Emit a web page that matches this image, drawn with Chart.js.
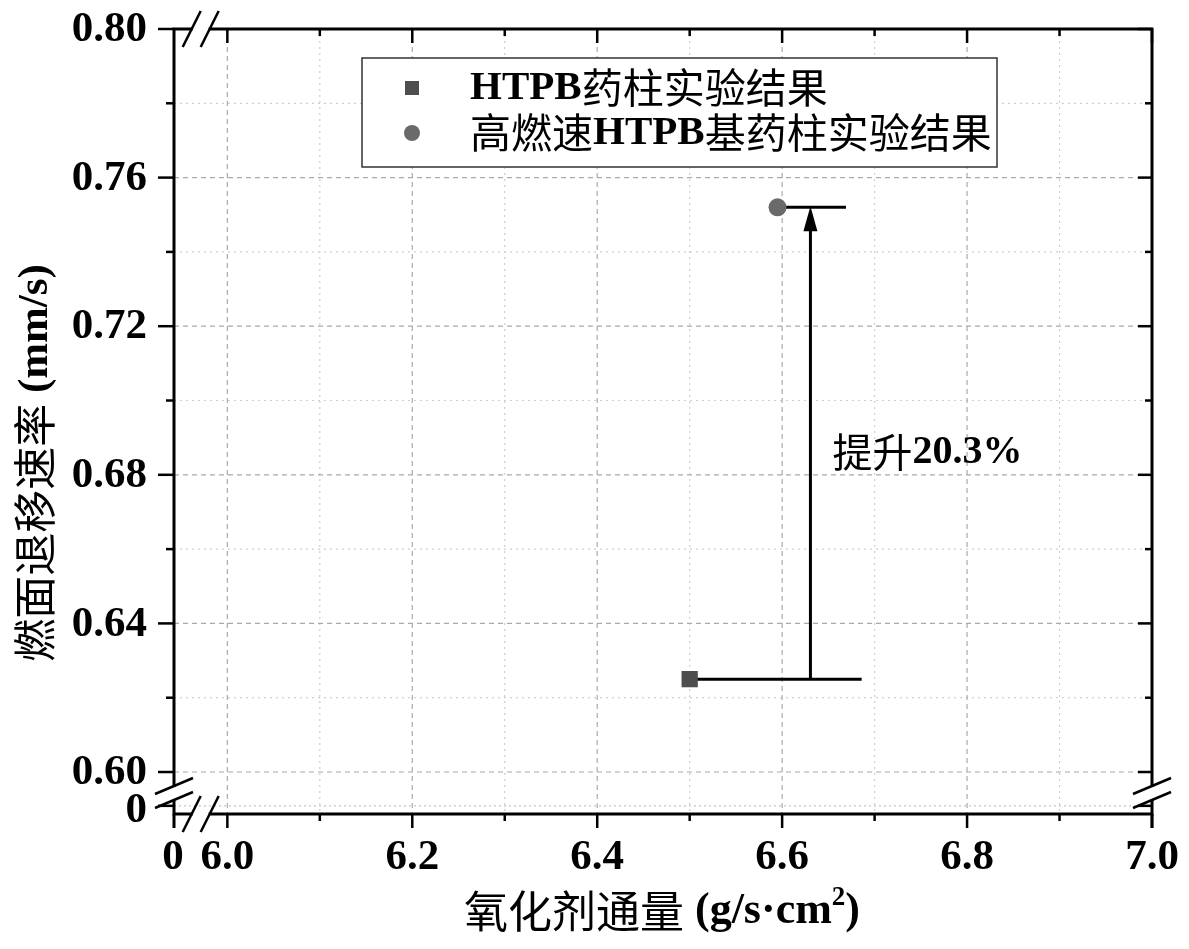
<!DOCTYPE html>
<html>
<head>
<meta charset="utf-8">
<script src="https://cdn.jsdelivr.net/npm/chart.js@4"></script>
<style>
  html, body { margin: 0; padding: 0; background: #fff; }
  #wrap { width: 1189px; height: 949px; position: relative; }
</style>
</head>
<body>
<div id="wrap"><canvas id="chart"></canvas></div>
<script>
// data
const seriesNames = ['HTPB药柱实验结果', '高燃速HTPB基药柱实验结果'];
const fluxValues = [6.5, 6.595];          // g/s·cm2
const rateValues = [0.625, 0.752];        // mm/s

// annotation: horizontal guides, arrow and label
const guideEndX = [6.686, 6.669];
const arrowX = 6.6306;
const annotText = '提升20.3%';
const annotPos = [6.6544, 0.6859];

// axes (broken axes: the "0" sits at the start of each axis)
const xMin = 5.9423, xMax = 7.0;
const yMin = 0.5887, yMax = 0.80;
const xZero = 5.9423, yZero = 0.5909;
const xMajorTicks = [6.0, 6.2, 6.4, 6.6, 6.8, 7.0];
const xTickLabels = ['6.0', '6.2', '6.4', '6.6', '6.8', '7.0'];
const xMinorTicks = [6.1, 6.3, 6.5, 6.7, 6.9];
const yMajorTicks = [0.60, 0.64, 0.68, 0.72, 0.76, 0.80];
const yTickLabels = ['0.60', '0.64', '0.68', '0.72', '0.76', '0.80'];
const yMinorTicks = [0.62, 0.66, 0.70, 0.74, 0.78];
const xTitle = '氧化剂通量 (g/s·cm²)';
const yTitle = '燃面退移速率 (mm/s)';

const LATIN = '"Liberation Serif", "DejaVu Serif", serif';
const CJK = '"Noto Sans CJK SC", sans-serif';

// draw text where Chinese is regular sans and latin is bold serif
function mixedRuns(text) {
  const runs = [];
  for (const ch of text) {
    const type = /[\u3000-\u9fff\uff00-\uffef]/.test(ch) ? 'cjk' : (ch === '²' ? 'sup' : 'lat');
    const last = runs[runs.length - 1];
    if (last && last.type === type) last.t += ch;
    else runs.push({ type, t: type === 'sup' ? '2' : ch });
  }
  return runs;
}
function runFont(r, size) {
  if (r.type === 'cjk') return `${size}px ${CJK}`;
  if (r.type === 'sup') return `bold ${Math.round(size * 0.62)}px ${LATIN}`;
  return `bold ${size}px ${LATIN}`;
}
function drawMixed(ctx, text, x, y, size, align) {
  const runs = mixedRuns(text);
  let w = 0;
  runs.forEach(r => { ctx.font = runFont(r, size); r.w = ctx.measureText(r.t).width; w += r.w; });
  let cx = align === 'center' ? x - w / 2 : x;
  ctx.textBaseline = 'middle';
  ctx.textAlign = 'left';
  runs.forEach(r => {
    ctx.font = runFont(r, size);
    const dy = r.type === 'sup' ? -size * 0.32 : (r.type === 'cjk' ? -1 : 0);
    ctx.fillText(r.t, cx, y + dy);
    cx += r.w;
  });
}

const framePlugin = {
  id: 'frame',
  beforeDatasetsDraw(chart) {
    const ctx = chart.ctx, xs = chart.scales.x, ys = chart.scales.y;
    const { left, right, top, bottom } = chart.chartArea;
    ctx.save();
    ctx.lineWidth = 1.2;
    const vline = (v, color, dash) => {
      const px = xs.getPixelForValue(v);
      ctx.strokeStyle = color; ctx.setLineDash(dash);
      ctx.beginPath(); ctx.moveTo(px, top); ctx.lineTo(px, bottom); ctx.stroke();
    };
    const hline = (v, color, dash) => {
      const py = ys.getPixelForValue(v);
      ctx.strokeStyle = color; ctx.setLineDash(dash);
      ctx.beginPath(); ctx.moveTo(left, py); ctx.lineTo(right, py); ctx.stroke();
    };
    xMinorTicks.forEach(v => vline(v, '#cfcfcf', [2, 4]));
    yMinorTicks.forEach(v => hline(v, '#cfcfcf', [2, 4]));
    xMajorTicks.forEach(v => vline(v, '#aaaaaa', [5, 4]));
    yMajorTicks.forEach(v => hline(v, '#aaaaaa', [5, 4]));
    hline(yZero, '#c4c4c4', [2, 3]);
    ctx.restore();
  },
  afterDatasetsDraw(chart) {
    const ctx = chart.ctx, xs = chart.scales.x, ys = chart.scales.y;
    const { left, right, top, bottom } = chart.chartArea;
    ctx.save();
    ctx.setLineDash([]);

    // arrow head on the vertical guide
    const tipY = ys.getPixelForValue(rateValues[1]) - 1;
    const ax = xs.getPixelForValue(arrowX);
    ctx.fillStyle = '#000';
    ctx.beginPath();
    ctx.moveTo(ax, tipY);
    ctx.lineTo(ax - 7, tipY + 25);
    ctx.lineTo(ax + 7, tipY + 25);
    ctx.closePath();
    ctx.fill();

    // annotation label
    ctx.fillStyle = '#000';
    drawMixed(ctx, annotText, xs.getPixelForValue(annotPos[0]), ys.getPixelForValue(annotPos[1]), 40, 'left');

    // legend box
    const lx = 362, ly = 58, lw = 635, lh = 109;
    ctx.fillStyle = '#fff';
    ctx.fillRect(lx, ly, lw, lh);
    ctx.strokeStyle = '#333'; ctx.lineWidth = 1.5;
    ctx.strokeRect(lx, ly, lw, lh);
    chart.data.datasets.slice(0, 2).forEach((ds, i) => {
      const cy = ly + 30 + i * 45;
      ctx.fillStyle = ds.backgroundColor;
      if (ds.pointStyle === 'rect') ctx.fillRect(lx + 43, cy - 7, 14, 14);
      else { ctx.beginPath(); ctx.arc(lx + 50, cy, 8, 0, Math.PI * 2); ctx.fill(); }
      ctx.fillStyle = '#000';
      drawMixed(ctx, ds.label, lx + 108, cy, 41, 'left');
    });

    // frame
    ctx.strokeStyle = '#000'; ctx.lineWidth = 3; ctx.lineCap = 'butt';
    ctx.strokeRect(left, top, right - left, bottom - top);
    const seg = (x1, y1, x2, y2) => { ctx.beginPath(); ctx.moveTo(x1, y1); ctx.lineTo(x2, y2); ctx.stroke(); };
    seg(left, bottom, left, bottom + 14);
    seg(right, bottom, right, bottom + 14);

    // tick marks
    ctx.lineWidth = 2.5;
    xMajorTicks.forEach(v => { const p = xs.getPixelForValue(v); seg(p, bottom, p, bottom + 14); seg(p, top, p, top + 14); });
    xMinorTicks.forEach(v => { const p = xs.getPixelForValue(v); seg(p, bottom, p, bottom + 7); seg(p, top, p, top + 7); });
    yMajorTicks.forEach(v => { const p = ys.getPixelForValue(v); seg(left - 16, p, left, p); seg(right - 14, p, right, p); });
    yMinorTicks.forEach(v => { const p = ys.getPixelForValue(v); seg(left - 8, p, left, p); seg(right - 7, p, right, p); });
    const pz = ys.getPixelForValue(yZero);
    seg(left - 16, pz, left, pz); seg(right - 14, pz, right, pz);

    // axis breaks
    const bx = (xs.getPixelForValue(xZero) + xs.getPixelForValue(xMajorTicks[0])) / 2;
    const by = (bottom + ys.getPixelForValue(yMajorTicks[0])) / 2;
    const slashX = (yy) => {
      ctx.fillStyle = '#fff';
      ctx.fillRect(bx - 8, yy - 2, 16, 4);
      ctx.lineWidth = 2.5;
      seg(bx - 9 - 9, yy + 18, bx - 9 + 9, yy - 18);
      seg(bx + 9 - 9, yy + 18, bx + 9 + 9, yy - 18);
    };
    const slashY = (xx) => {
      ctx.fillStyle = '#fff';
      ctx.fillRect(xx - 2, by - 6, 4, 12);
      ctx.lineWidth = 2.5;
      seg(xx - 19, by - 7 + 8, xx + 19, by - 7 - 8);
      seg(xx - 19, by + 7 + 8, xx + 19, by + 7 - 8);
    };
    slashX(top); slashX(bottom); slashY(left); slashY(right);

    // tick labels
    ctx.fillStyle = '#000';
    ctx.font = `bold 43px ${LATIN}`;
    ctx.textBaseline = 'middle';
    ctx.textAlign = 'right';
    yMajorTicks.forEach((v, i) => ctx.fillText(yTickLabels[i], left - 27, ys.getPixelForValue(v) + 1));
    ctx.fillText('0', left - 27, pz + 5);
    ctx.textAlign = 'center';
    xMajorTicks.forEach((v, i) => ctx.fillText(xTickLabels[i], xs.getPixelForValue(v), bottom + 44));
    ctx.fillText('0', xs.getPixelForValue(xZero) - 1, bottom + 44);

    // axis titles
    drawMixed(ctx, xTitle, (left + right) / 2 - 1, 912, 44, 'center');
    ctx.translate(36, 463);
    ctx.rotate(-Math.PI / 2);
    drawMixed(ctx, yTitle, 0, 0, 43, 'center');
    ctx.restore();
  }
};

new Chart(document.getElementById('chart'), {
  type: 'scatter',
  data: {
    datasets: [
      {
        label: seriesNames[0],
        data: [{ x: fluxValues[0], y: rateValues[0] }],
        pointStyle: 'rect', pointRadius: 11.5,
        backgroundColor: '#4e4e4e', borderColor: '#4e4e4e', borderWidth: 0,
        order: 0
      },
      {
        label: seriesNames[1],
        data: [{ x: fluxValues[1], y: rateValues[1] }],
        pointStyle: 'circle', pointRadius: 9,
        backgroundColor: '#6a6a6a', borderColor: '#6a6a6a', borderWidth: 0,
        order: 0
      },
      {
        label: 'guide-low',
        data: [{ x: fluxValues[0], y: rateValues[0] }, { x: guideEndX[0], y: rateValues[0] }],
        showLine: true, pointRadius: 0, borderColor: '#000', borderWidth: 3, order: 1
      },
      {
        label: 'guide-high',
        data: [{ x: fluxValues[1], y: rateValues[1] }, { x: guideEndX[1], y: rateValues[1] }],
        showLine: true, pointRadius: 0, borderColor: '#000', borderWidth: 3, order: 1
      },
      {
        label: 'arrow',
        data: [{ x: arrowX, y: rateValues[0] }, { x: arrowX, y: rateValues[1] - 0.005 }],
        showLine: true, pointRadius: 0, borderColor: '#000', borderWidth: 3, order: 1
      }
    ]
  },
  options: {
    responsive: true,
    maintainAspectRatio: false,
    animation: false,
    layout: { padding: { top: 29, right: 37, left: 0, bottom: 0 } },
    plugins: { legend: { display: false }, tooltip: { enabled: false } },
    scales: {
      x: {
        type: 'linear', min: xMin, max: xMax,
        ticks: { display: false }, grid: { display: false }, border: { display: false },
        afterFit: s => { s.height = 135; }
      },
      y: {
        type: 'linear', min: yMin, max: yMax,
        ticks: { display: false }, grid: { display: false }, border: { display: false },
        afterFit: s => { s.width = 174; }
      }
    }
  },
  plugins: [framePlugin]
});
</script>
</body>
</html>
